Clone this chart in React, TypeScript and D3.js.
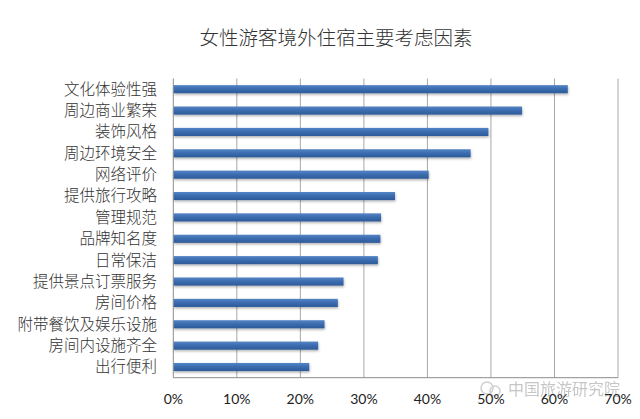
import React, { useEffect, useRef } from "react";
import * as d3 from "d3";

// categories top to bottom, share of respondents
const categories = [
  "文化体验性强",
  "周边商业繁荣",
  "装饰风格",
  "周边环境安全",
  "网络评价",
  "提供旅行攻略",
  "管理规范",
  "品牌知名度",
  "日常保洁",
  "提供景点订票服务",
  "房间价格",
  "附带餐饮及娱乐设施",
  "房间内设施齐全",
  "出行便利",
];
const values = [0.621, 0.549, 0.496, 0.468, 0.402, 0.349, 0.327, 0.326, 0.322, 0.268, 0.259, 0.238, 0.228, 0.214];
const ticks = [0, 0.1, 0.2, 0.3, 0.4, 0.5, 0.6, 0.7];

const title = "女性游客境外住宿主要考虑因素";
const watermark = "中国旅游研究院";

const width = 640;
const height = 419;

export default function App() {
  const svgRef = useRef<SVGSVGElement | null>(null);

  useEffect(() => {
    document.body.style.margin = "0";
    if (!svgRef.current) return;
    const svg = d3.select(svgRef.current);
    svg.selectAll("*").remove();

    const x = d3.scaleLinear().domain([0, 0.7]).range([173.3, 618]);
    const y = d3.scaleBand<string>()
      .domain(categories)
      .range([78.5, 377.7])
      .paddingInner(0.62)
      .paddingOuter(0.31);

    const defs = svg.append("defs");
    const grad = defs.append("linearGradient")
      .attr("id", "barGrad")
      .attr("x1", 0).attr("y1", 0).attr("x2", 0).attr("y2", 1);
    grad.append("stop").attr("offset", "0%").attr("stop-color", "#5485c6");
    grad.append("stop").attr("offset", "45%").attr("stop-color", "#3c6db0");
    grad.append("stop").attr("offset", "100%").attr("stop-color", "#2c5a98");
    const shadow = defs.append("filter").attr("id", "shadow")
      .attr("x", "-5%").attr("y", "-50%").attr("width", "110%").attr("height", "250%");
    shadow.append("feDropShadow")
      .attr("dx", 0.5).attr("dy", 1.5).attr("stdDeviation", 1)
      .attr("flood-color", "#000").attr("flood-opacity", 0.3);

    svg.append("rect").attr("width", width).attr("height", height).attr("fill", "#fff");

    // title
    svg.append("text")
      .attr("x", 336).attr("y", 45)
      .attr("text-anchor", "middle")
      .attr("font-family", "'Noto Sans CJK SC', sans-serif")
      .attr("font-weight", 300)
      .attr("font-size", 19.5)
      .attr("fill", "#333")
      .text(title);

    const [y0, y1] = y.range();

    // vertical gridlines
    svg.append("g").selectAll("line")
      .data(ticks.slice(1))
      .join("line")
      .attr("x1", d => x(d)).attr("x2", d => x(d))
      .attr("y1", y0).attr("y2", y1)
      .attr("stroke", "#a8a8a8").attr("stroke-width", 1);

    // bars
    svg.append("g").selectAll("rect")
      .data(categories)
      .join("rect")
      .attr("x", x(0))
      .attr("y", d => y(d)!)
      .attr("width", (d, i) => x(values[i]) - x(0))
      .attr("height", y.bandwidth())
      .attr("fill", "url(#barGrad)")
      .attr("filter", "url(#shadow)");

    // axis lines
    svg.append("line")
      .attr("x1", x(0)).attr("x2", x(0)).attr("y1", y0).attr("y2", y1)
      .attr("stroke", "#8c8c8c");
    svg.append("line")
      .attr("x1", x(0)).attr("x2", x(0.7)).attr("y1", y1).attr("y2", y1)
      .attr("stroke", "#8c8c8c");

    // category labels
    svg.append("g").selectAll("text")
      .data(categories)
      .join("text")
      .attr("x", 157)
      .attr("y", d => y(d)! + y.bandwidth() / 2)
      .attr("dy", "0.35em")
      .attr("text-anchor", "end")
      .attr("font-family", "'Noto Sans CJK SC', sans-serif")
      .attr("font-weight", 300)
      .attr("font-size", 15.5)
      .attr("fill", "#333")
      .text(d => d);

    // watermark
    const wm = svg.append("g").attr("opacity", 0.55);
    wm.append("circle").attr("cx", 487).attr("cy", 388).attr("r", 6)
      .attr("fill", "none").attr("stroke", "#aaa").attr("stroke-width", 1.5);
    wm.append("circle").attr("cx", 495).attr("cy", 391).attr("r", 5)
      .attr("fill", "none").attr("stroke", "#aaa").attr("stroke-width", 1.5);
    wm.append("text")
      .attr("x", 508).attr("y", 389)
      .attr("dy", "0.35em")
      .attr("font-family", "'Noto Sans CJK SC', sans-serif")
      .attr("font-size", 16)
      .attr("fill", "#999")
      .text(watermark);

    // tick labels
    svg.append("g").selectAll("text")
      .data(ticks)
      .join("text")
      .attr("x", d => x(d))
      .attr("y", 399)
      .attr("dy", "0.35em")
      .attr("text-anchor", "middle")
      .attr("font-family", "Lato, 'Open Sans', sans-serif")
      .attr("font-size", 14)
      .attr("fill", "#222")
      .text(d => d3.format(".0%")(d));
  }, []);

  return <svg ref={svgRef} width={width} height={height} style={{ display: "block" }} />;
}
